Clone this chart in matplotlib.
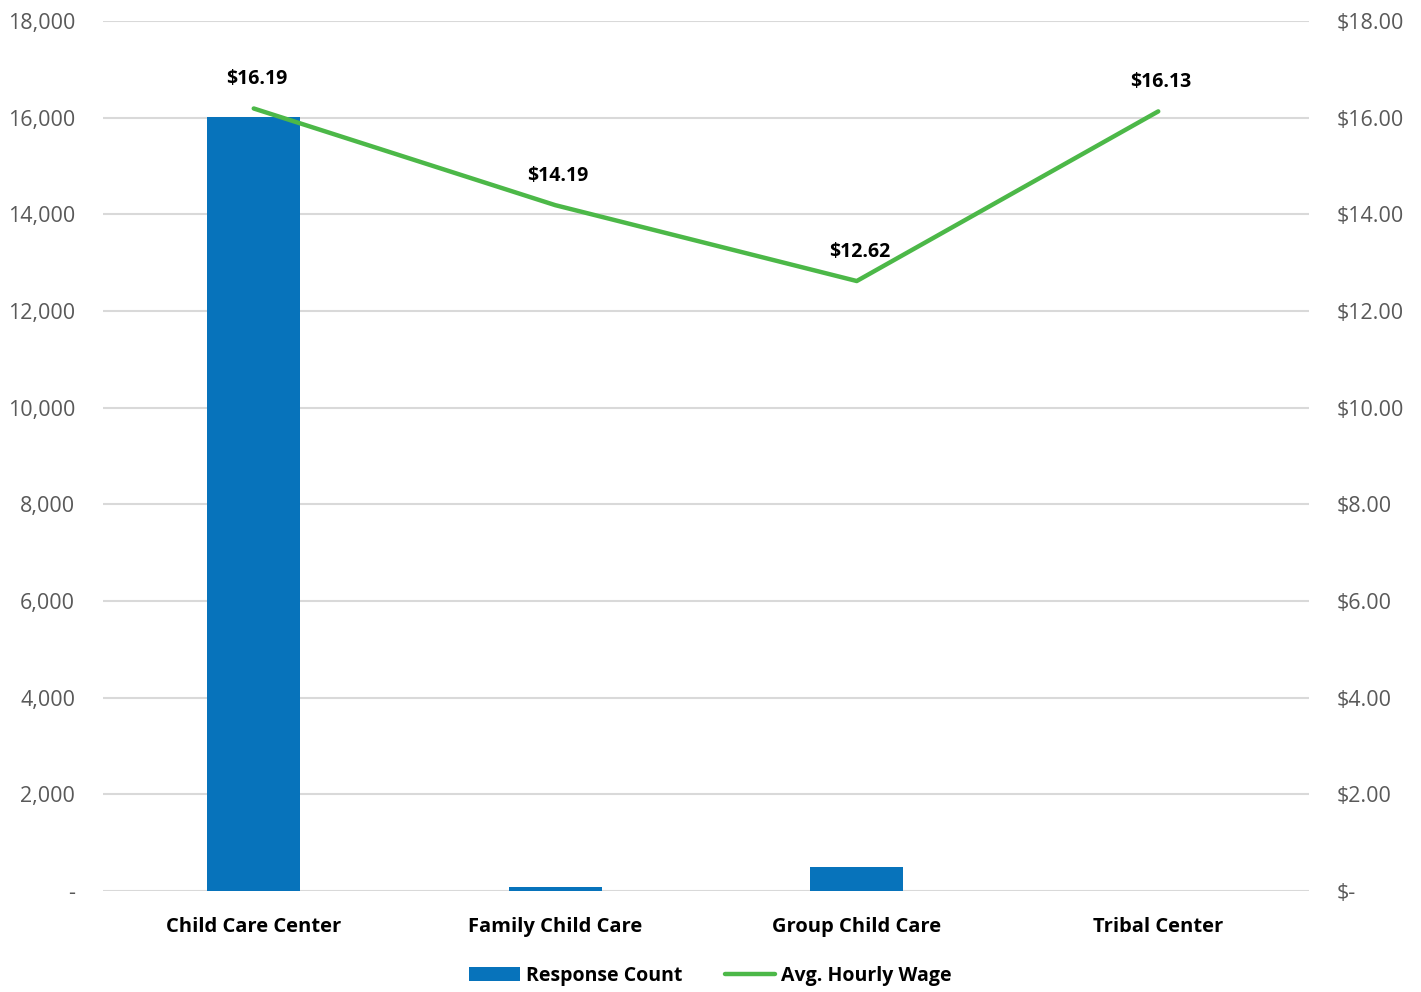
import matplotlib
matplotlib.use("Agg")
import matplotlib.pyplot as plt
from matplotlib.ticker import FuncFormatter

categories = ["Child Care Center", "Family Child Care", "Group Child Care", "Tribal Center"]
response_count = [16020, 75, 500, 0]
avg_wage = [16.19, 14.19, 12.62, 16.13]
wage_labels = ["$16.19", "$14.19", "$12.62", "$16.13"]

plt.rcParams['font.family'] = ['Open Sans', 'DejaVu Sans']

fig = plt.figure(figsize=(14.21, 9.92), dpi=100)
ax = fig.add_axes([103/1421, 1-891/992, (1309-103)/1421, (891-21)/992])
x = list(range(len(categories)))
bar_color = "#0773bb"
line_color = "#4cb848"

ax.bar(x, response_count, width=0.31, color=bar_color, zorder=2, label="Response Count")
ax.set_xlim(-0.5, 3.5)
ax.set_ylim(0, 18000)
ax.set_yticks(range(0, 18001, 2000))
ax.yaxis.set_major_formatter(FuncFormatter(lambda v, p: "-" if v == 0 else f"{int(v):,}"))
ax.grid(axis='y', color="#d9d9d9", linewidth=1.5, zorder=0)
for s in ax.spines.values():
    s.set_visible(False)
ax.tick_params(axis='y', length=0, labelsize=15.5, labelcolor="#595959", pad=20)
ax.tick_params(axis='x', length=0, labelsize=14.5, pad=19)
ax.set_xticks(x)
ax.set_xticklabels(categories, fontweight='bold')

ax2 = ax.twinx()
ax2.set_ylim(0, 18)
ax2.set_yticks(range(0, 19, 2))
ax2.yaxis.set_major_formatter(FuncFormatter(lambda v, p: "$-" if v == 0 else f"${v:.2f}"))
ax2.tick_params(axis='y', length=0, labelsize=15.5, labelcolor="#595959", pad=20)
for s in ax2.spines.values():
    s.set_visible(False)
ax2.plot(x, avg_wage, color=line_color, linewidth=3.2, solid_capstyle='round', zorder=3, label="Avg. Hourly Wage")
for xi, yi, lab in zip(x, avg_wage, wage_labels):
    ax2.annotate(lab, (xi, yi), xytext=(2, 14), textcoords='offset points', ha='center', va='bottom',
                 fontsize=14, fontweight='bold', color='black')

h1, l1 = ax.get_legend_handles_labels()
h2, l2 = ax2.get_legend_handles_labels()
leg = fig.legend(h1 + h2, l1 + l2, loc='center', bbox_to_anchor=(0.5, 1-976/992), ncol=2, frameon=False,
                 prop={'size': 14, 'weight': 'bold'}, handlelength=2.6, handleheight=0.7, columnspacing=2.2, handletextpad=0.3)

fig.savefig("out.png", dpi=100, facecolor='white')
